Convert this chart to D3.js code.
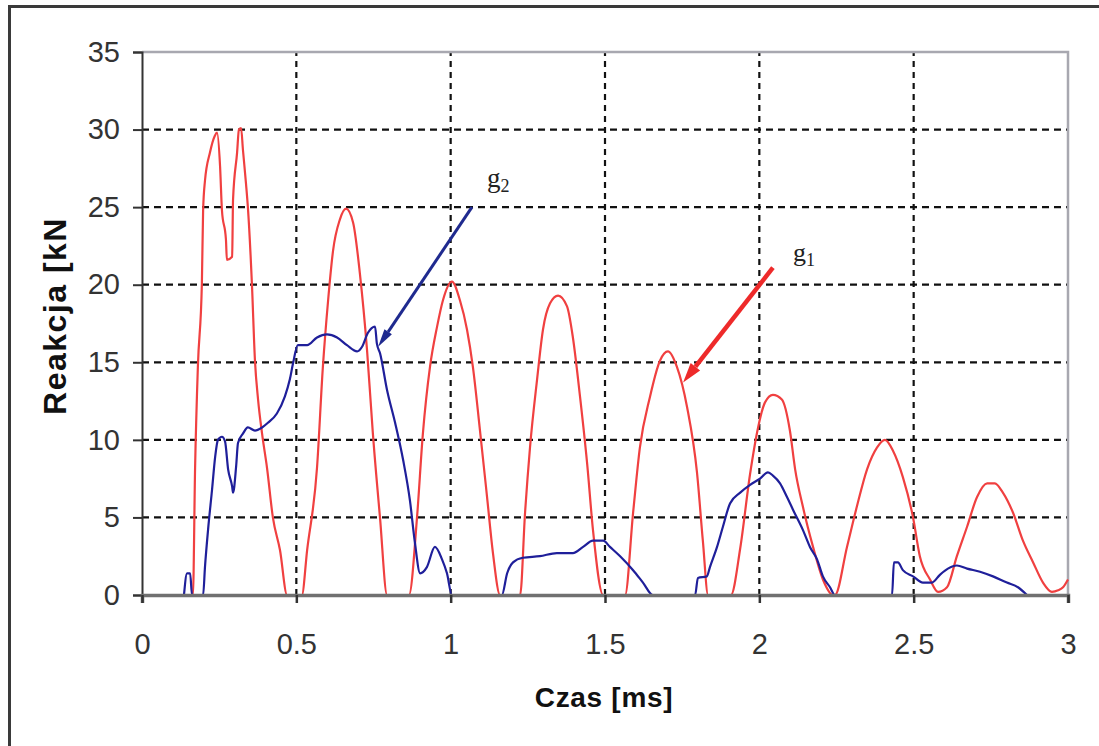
<!doctype html>
<html lang="pl">
<head>
    <meta charset="UTF-8">
    <script type="text/javascript" src="https://cdn.jsdelivr.net/npm/d3@7/dist/d3.min.js"></script>
    <style>
        body {
            margin: 0;
            background-color: white;
        }
        .tick text {
            font: 29px "Liberation Sans", Arial, sans-serif;
            fill: #333;
        }
        .grid line {
            stroke: #111;
            stroke-width: 2.2;
        }
        .axisTitle {
            font: bold 28px "Liberation Sans", Arial, sans-serif;
            fill: #111;
        }
        .gLabel {
            font-family: "Liberation Serif", "Times New Roman", serif;
            fill: #222;
        }
    </style>
</head>
<body>
<svg id="chart"></svg>

<script type="text/javascript">
// czas [ms] i reakcja [kN]
let g1Time = [0.133,0.165,0.172,0.181,0.194,0.198,0.204,0.220,0.236,0.243,0.253,0.259,0.272,0.275,0.292,0.295,0.308,0.314,0.321,0.327,0.337,0.343,0.356,0.366,0.376,0.389,0.405,0.424,0.447,0.470,
    0.518,0.535,0.567,0.586,0.603,0.619,0.641,0.661,0.684,0.706,0.729,0.748,0.771,0.794,
    0.865,0.891,0.910,0.933,0.956,0.975,1.004,1.030,1.053,1.072,1.095,1.118,1.137,1.160,
    1.225,1.241,1.257,1.280,1.299,1.322,1.348,1.377,1.396,1.419,1.442,1.461,1.494,
    1.565,1.591,1.613,1.646,1.678,1.704,1.733,1.766,1.798,1.817,1.834,
    1.908,1.938,1.970,1.996,2.018,2.044,2.073,2.099,2.116,2.141,2.174,2.206,2.239,
    2.245,2.284,2.316,2.349,2.381,2.407,2.433,2.465,2.498,2.520,2.553,2.579,
    2.608,2.640,2.673,2.705,2.738,2.763,2.789,2.822,2.854,2.887,2.919,2.948,2.968,2.984,3.0];
let g1Value = [0,0,8.2,14.7,20.1,24.8,26.7,28.5,29.6,29.8,27.6,24.8,22.9,21.6,21.8,25.5,28.5,30.0,30.1,28.7,26.5,25.0,20.1,15.1,12.6,10.4,8.2,5.0,2.9,0,
    0,2.9,8.2,14.7,19.0,22.2,24.2,24.9,24.0,20.7,15.8,10.4,5.0,0,
    0,5.0,10.4,14.7,17.3,19.0,20.2,19.0,17.1,14.7,10.6,6.3,2.7,0,
    0,5.3,9.5,13.9,17.1,18.8,19.3,18.6,16.6,12.8,8.5,4.2,0,
    0,5.3,9.5,12.8,15.1,15.7,14.7,12.1,7.9,3.5,0,
    0,3.0,7.8,10.8,12.4,12.9,12.6,10.6,8.1,5.7,3.1,1.0,0,
    0,3.1,5.7,8.1,9.5,10.0,9.3,7.6,5.0,2.5,1.0,0.2,
    0.5,2.5,4.4,6.3,7.2,7.2,6.6,5.3,3.5,2.1,0.8,0.2,0.3,0.5,1.0];

let g2Time = [0.136,0.146,0.156,0.162,0.198,0.204,0.214,0.227,0.237,0.246,0.259,0.269,0.279,0.292,0.295,0.305,0.311,0.327,0.343,0.366,
    0.389,0.408,0.437,0.463,0.479,0.489,0.505,0.535,0.567,0.599,0.632,0.664,0.697,0.713,0.732,0.755,0.761,0.771,0.794,0.820,
    0.846,0.868,0.884,0.901,0.923,0.949,0.972,0.988,1.004,
    1.166,1.183,1.202,1.234,1.289,1.344,1.396,1.429,1.461,1.494,1.516,1.549,1.591,1.623,1.655,
    1.792,1.801,1.830,1.840,1.863,1.882,1.905,1.938,1.970,2.002,2.028,2.044,2.067,2.090,2.109,2.141,2.164,2.187,2.206,2.229,2.245,
    2.430,2.436,2.449,2.465,2.498,2.530,2.559,2.585,2.611,2.640,2.673,2.715,2.757,2.802,2.838,2.867];
let g2Value = [0,1.4,1.4,0,0,1.8,4.2,6.8,8.9,10.0,10.2,9.9,8.1,7.0,6.6,8.3,9.8,10.4,10.8,10.6,
    10.8,11.1,11.7,12.8,13.9,14.9,16.1,16.1,16.6,16.8,16.6,16.1,15.7,16.0,16.9,17.3,16.2,15.6,13.2,11.1,
    8.7,6.1,3.4,1.4,1.8,3.1,2.3,1.4,0,
    0,1.4,2.1,2.4,2.5,2.7,2.7,3.1,3.5,3.5,3.1,2.5,1.6,0.8,0,
    0,1.1,1.2,1.8,3.1,4.4,5.9,6.6,7.1,7.5,7.9,7.7,7.2,6.3,5.5,4.2,3.1,2.3,1.2,0.5,0,
    0,2.1,2.1,1.6,1.2,0.8,0.8,1.3,1.7,1.9,1.7,1.5,1.2,0.8,0.5,0];

let xTicks = [0, 0.5, 1, 1.5, 2, 2.5, 3];
let yTicks = [0, 5, 10, 15, 20, 25, 30, 35];

// strzalki z opisem: [czas, reakcja] poczatku i konca
let arrowG2 = [[1.069, 25.0], [0.765, 16.0]];
let arrowG1 = [[2.044, 21.1], [1.753, 13.7]];
let labelG2 = [1.118, 26.3];
let labelG1 = [2.109, 21.5];

let width = 1099, height = 746;
let margin = {left: 142, right: 31, top: 52, bottom: 151};

let svg = d3.select("#chart")
    .attr("width", width)
    .attr("height", height);

// ramka obrazka
svg.append("rect")
    .attr("x", 9.5).attr("y", 6.5)
    .attr("width", width + 20).attr("height", height + 20)
    .attr("fill", "white")
    .attr("stroke", "#3a3a3a")
    .attr("stroke-width", 3);

let x = d3.scaleLinear()
    .domain([0, 3])
    .range([margin.left, width - margin.right]);
let y = d3.scaleLinear()
    .domain([0, 35])
    .range([height - margin.bottom, margin.top]);

// siatka
svg.append("g").attr("class", "grid")
    .selectAll("line")
    .data(yTicks.filter(function (d) { return d > 0 && d < 35; }))
    .enter().append("line")
    .attr("x1", x(0)).attr("x2", x(3))
    .attr("y1", function (d) { return y(d); })
    .attr("y2", function (d) { return y(d); })
    .attr("stroke-dasharray", "7,5");
svg.append("g").attr("class", "grid")
    .selectAll("line")
    .data(xTicks.filter(function (d) { return d > 0 && d < 3; }))
    .enter().append("line")
    .attr("y1", y(0)).attr("y2", y(35))
    .attr("x1", function (d) { return x(d); })
    .attr("x2", function (d) { return x(d); })
    .attr("stroke-dasharray", "6,5");

// gorna i prawa krawedz pola wykresu
svg.append("path")
    .attr("d", "M" + x(0) + "," + y(35) + "H" + x(3) + "V" + y(0))
    .attr("fill", "none")
    .attr("stroke", "#a8a8b0")
    .attr("stroke-width", 2.5);

let line = d3.line()
    .curve(d3.curveMonotoneX)
    .x(function (d) { return x(d[0]); })
    .y(function (d) { return y(d[1]); });

let g1 = d3.zip(g1Time, g1Value);
let g2 = d3.zip(g2Time, g2Value);

svg.append("path")
    .datum(g1)
    .attr("d", line)
    .attr("fill", "none")
    .attr("stroke", "#f04040")
    .attr("stroke-width", 2.2);
svg.append("path")
    .datum(g2)
    .attr("d", line)
    .attr("fill", "none")
    .attr("stroke", "#1f1f9a")
    .attr("stroke-width", 2.2);

// osie
let yAxis = svg.append("g")
    .attr("transform", "translate(" + x(0) + ",0)")
    .call(d3.axisLeft(y).tickValues(yTicks).tickSize(9).tickPadding(13).tickFormat(d3.format("d")));
yAxis.select(".domain").attr("stroke", "#333").attr("stroke-width", 2);
yAxis.selectAll(".tick line").attr("stroke", "#333").attr("stroke-width", 2);

let xAxis = svg.append("g")
    .attr("transform", "translate(0," + y(0) + ")")
    .call(d3.axisBottom(x).tickValues(xTicks).tickSize(8).tickPadding(30).tickFormat(function (d) { return d; }));
xAxis.select(".domain").attr("stroke", "#707070").attr("stroke-width", 3.5);
xAxis.selectAll(".tick line").attr("stroke", "#333").attr("stroke-width", 2.5);

// tytuly osi
svg.append("text")
    .attr("class", "axisTitle")
    .attr("transform", "translate(66," + 316 + ") rotate(-90)")
    .attr("text-anchor", "middle")
    .style("font-size", "32px")
    .style("letter-spacing", "1.5px")
    .text("Reakcja [kN");
svg.append("text")
    .attr("class", "axisTitle")
    .attr("x", 604).attr("y", 707)
    .attr("text-anchor", "middle")
    .style("letter-spacing", "0.7px")
    .text("Czas [ms]");

// strzalki
function drawArrow(pts, color, w, headLen, headW) {
    let x1 = x(pts[0][0]), y1 = y(pts[0][1]);
    let x2 = x(pts[1][0]), y2 = y(pts[1][1]);
    let ang = Math.atan2(y2 - y1, x2 - x1);
    let bx = x2 - headLen * Math.cos(ang), by = y2 - headLen * Math.sin(ang);
    svg.append("line")
        .attr("x1", x1).attr("y1", y1)
        .attr("x2", bx).attr("y2", by)
        .attr("stroke", color)
        .attr("stroke-width", w);
    let px = -Math.sin(ang) * headW, py = Math.cos(ang) * headW;
    svg.append("path")
        .attr("d", "M" + x2 + "," + y2 + "L" + (bx + px) + "," + (by + py) + "L" + (bx - px) + "," + (by - py) + "Z")
        .attr("fill", color);
}
drawArrow(arrowG2, "#1f2a8f", 3, 18, 4.5);
drawArrow(arrowG1, "#ee2a2a", 4.5, 20, 6);

// opisy g1, g2
let t2 = svg.append("text").attr("class", "gLabel")
    .attr("x", x(labelG2[0])).attr("y", y(labelG2[1]))
    .style("font-size", "27px");
t2.append("tspan").text("g");
t2.append("tspan").attr("dy", 5).style("font-size", "18px").text("2");

let t1 = svg.append("text").attr("class", "gLabel")
    .attr("x", x(labelG1[0])).attr("y", y(labelG1[1]))
    .style("font-size", "26px");
t1.append("tspan").text("g");
t1.append("tspan").attr("dy", 5).style("font-size", "18px").text("1");
</script>
</body>
</html>
